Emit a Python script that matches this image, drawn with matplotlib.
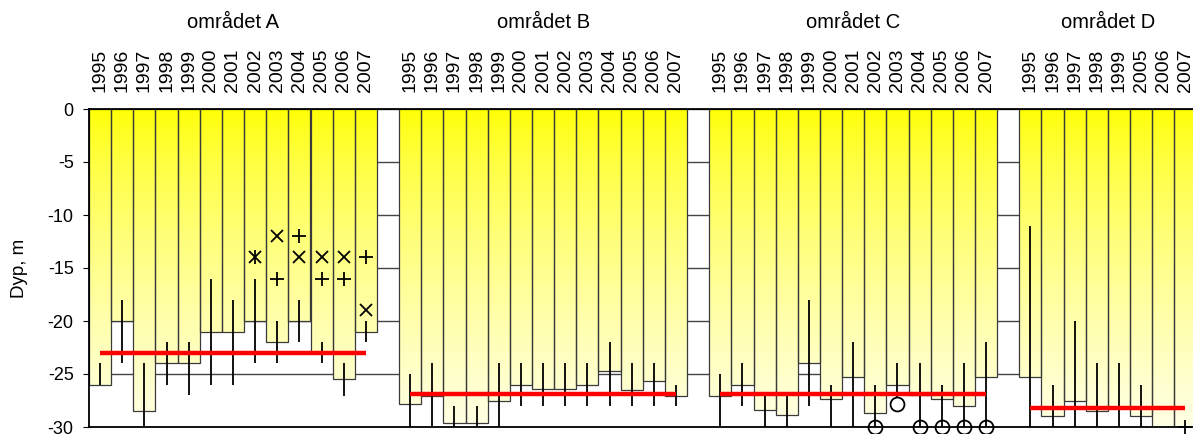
import numpy as np
import matplotlib.pyplot as plt
import matplotlib.transforms as mtransforms
from matplotlib.patches import Rectangle, PathPatch
from matplotlib.path import Path

plt.rcParams['font.family'] = ['Liberation Sans', 'DejaVu Sans']
plt.rcParams['axes.unicode_minus'] = False

# --- data ---
group_names = ['området A', 'området B', 'området C', 'området D']

years_A = ['1995', '1996', '1997', '1998', '1999', '2000', '2001',
           '2002', '2003', '2004', '2005', '2006', '2007']
depth_A = [-26.0, -20.0, -28.5, -24.0, -24.0, -21.0, -21.0, -20.0, -22.0, -20.0, -22.9, -25.5, -21.0]
top_A = [-24, -18, -24, -22, -22, -16, -18, -16, -20, -18, -22, -24, -20]
bot_A = [-26, -24, -30, -26, -27, -26, -26, -24, -24, -22, -24, -27.1, -22]
mean_A = -23.0

years_B = years_A
depth_B = [-27.8, -27.1, -29.6, -29.6, -27.5, -26.0, -26.4, -26.4, -26.0, -24.7, -26.5, -25.7, -27.05]
top_B = [-25, -24, -28, -28, -24, -24, -24, -24, -24, -22, -24, -24, -26]
bot_B = [-30, -30, -30, -30, -30, -28, -28, -28, -28, -28, -28, -28, -28]
mean_B = -26.9

years_C = years_A
depth_C = [-27.1, -26.0, -28.4, -28.9, -24.0, -27.4, -25.3, -28.7, -26.0, -27.0, -27.4, -28.0, -25.3]
top_C = [-25, -24, -27, -27, -18, -26, -22, -26, -24, -24, -26, -24, -22]
bot_C = [-30, -28, -30, -30, -28, -30, -30, -30, -27.3, -30, -30, -30, -30]
mean_C = -26.9

years_D = ['1995', '1996', '1997', '1998', '1999', '2005', '2006', '2007']
depth_D = [-25.3, -29.0, -27.5, -28.5, -28.1, -29.0, -31.0, -31.0]
top_D = [-11, -26, -20, -24, -24, -26, np.nan, np.nan]
bot_D = [-30, -30, -30, -30, -30, -30, np.nan, np.nan]
mean_D = -28.25

# extra single observations (year index within group, depth)
cross_A = ([8, 9, 10, 11, 12], [-12, -14, -14, -14, -19])
plus_A = ([8, 9, 10, 11, 12], [-16, -12, -16, -16, -14])
star_A = ([7], [-14])
circle_C = ([7, 8, 9, 10, 11, 12], [-30, -27.8, -30, -30, -30, -30])
plus_D = ([7], [-30])

groups = [
    (years_A, depth_A, top_A, bot_A, mean_A),
    (years_B, depth_B, top_B, bot_B, mean_B),
    (years_C, depth_C, top_C, bot_C, mean_C),
    (years_D, depth_D, top_D, bot_D, mean_D),
]

W, H = 1193, 434
fig = plt.figure(figsize=(W / 100, H / 100), dpi=100)
ax = fig.add_axes([89 / W, 7 / H, (W - 89) / W, 318 / H])

all_pos, all_labels, bar_paths, starts = [], [], [], []
offset = 0
for years, depth, top, bot, mean in groups:
    pos = offset + np.arange(len(years))
    starts.append(pos)
    all_pos.extend(pos)
    all_labels.extend(years)
    for x, d in zip(pos, depth):
        verts = [(x - 0.5, 0), (x + 0.5, 0), (x + 0.5, d), (x - 0.5, d), (x - 0.5, 0)]
        bar_paths.append(Path(verts, [Path.MOVETO, Path.LINETO, Path.LINETO, Path.LINETO, Path.CLOSEPOLY]))
        ax.add_patch(Rectangle((x - 0.5, d), 1, -d, fill=False, edgecolor='#3a3a3a',
                               lw=0.9, zorder=1.5))
    ax.vlines(pos, top, bot, color='black', lw=1.3, zorder=3)
    ax.hlines(mean, pos[0], pos[-1], color='red', lw=3.2, zorder=4)
    offset += len(years) + 1

# yellow -> pale gradient, clipped to the bars
t = np.linspace(0, 1, 256) ** 0.7
grad = np.zeros((256, 1, 3))
grad[:, 0, 0] = 1
grad[:, 0, 1] = 1
grad[:, 0, 2] = 0.92 * t
im = ax.imshow(grad, extent=(-0.5, 50, -31, 0), aspect='auto', origin='upper',
               interpolation='bilinear', zorder=1)
clip = PathPatch(Path.make_compound_path(*bar_paths), transform=ax.transData)
im.set_clip_path(clip)

# markers
pA, pC, pD = starts[0], starts[2], starts[3]
ax.plot(pA[cross_A[0]], cross_A[1], 'x', color='black', ms=9, mew=1.3, zorder=5)
ax.plot(pA[plus_A[0]], plus_A[1], '+', color='black', ms=10, mew=1.3, zorder=5)
ax.plot(pA[star_A[0]], star_A[1], 'x', color='black', ms=9, mew=1.3, zorder=5)
ax.plot(pA[star_A[0]], star_A[1], '|', color='black', ms=10, mew=1.3, zorder=5)
ax.plot(pC[circle_C[0]], circle_C[1], 'o', mfc='none', mec='black', ms=10, mew=1.3,
        zorder=5, clip_on=False)
ax.plot(pD[plus_D[0]], plus_D[1], '+', color='black', ms=10, mew=1.3, zorder=5, clip_on=False)

ax.set_xlim(-0.5, -0.5 + (W - 89) / 22.15)
ax.set_ylim(-30, 0)
ax.set_yticks(range(-30, 1, 5))
ax.yaxis.grid(True, color='#444444', lw=1.0)
ax.set_axisbelow(True)

ax.set_xticks(all_pos)
ax.set_xticklabels(all_labels, rotation=90)
ax.xaxis.tick_top()
ax.tick_params(axis='x', length=0, pad=12, labelsize=14)
ax.tick_params(axis='y', length=4, pad=7, labelsize=13)

for side in ['top', 'left', 'bottom']:
    ax.spines[side].set_linewidth(1.3)
ax.spines['right'].set_visible(False)

ax.set_ylabel('Dyp, m', fontsize=13.5)
ax.yaxis.set_label_coords(-61 / (W - 89), 0.5)

trans = mtransforms.blended_transform_factory(ax.transData, ax.transAxes)
for name, pos in zip(group_names, starts):
    ax.text((pos[0] + pos[-1]) / 2, 1 + 86 / 318, name, transform=trans,
            ha='center', va='center', fontsize=14.5)

fig.savefig('out.png', dpi=100)
